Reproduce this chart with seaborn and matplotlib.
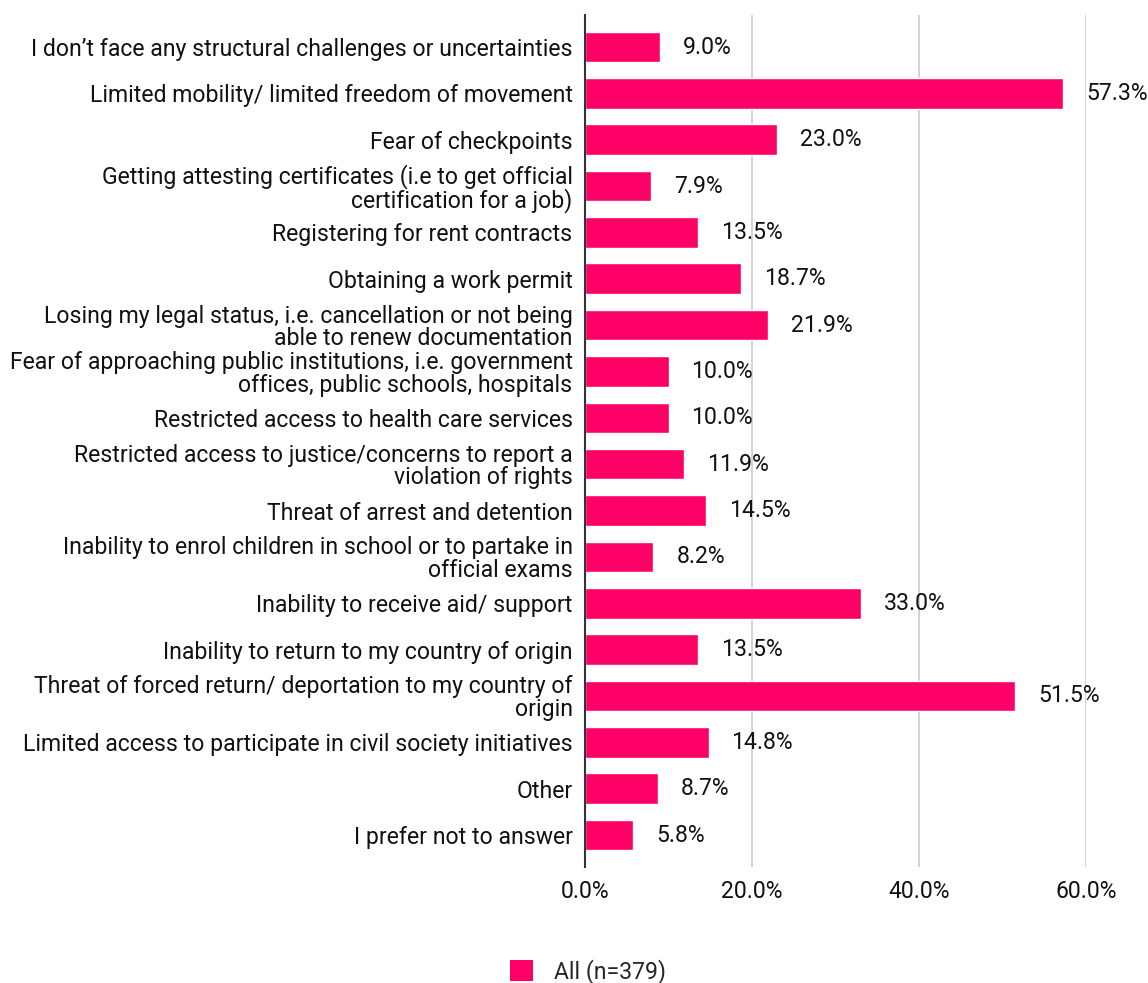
import matplotlib
matplotlib.use("Agg")
import matplotlib.pyplot as plt
import seaborn as sns
import pandas as pd
from matplotlib.patches import Patch

categories = [
    "I don\u2019t face any structural challenges or uncertainties",
    "Limited mobility/ limited freedom of movement",
    "Fear of checkpoints",
    "Getting attesting certificates (i.e to get official\ncertification for a job)",
    "Registering for rent contracts",
    "Obtaining a work permit",
    "Losing my legal status, i.e. cancellation or not being\nable to renew documentation",
    "Fear of approaching public institutions, i.e. government\noffices, public schools, hospitals",
    "Restricted access to health care services",
    "Restricted access to justice/concerns to report a\nviolation of rights",
    "Threat of arrest and detention",
    "Inability to enrol children in school or to partake in\nofficial exams",
    "Inability to receive aid/ support",
    "Inability to return to my country of origin",
    "Threat of forced return/ deportation to my country of\norigin",
    "Limited access to participate in civil society initiatives",
    "Other",
    "I prefer not to answer",
]
values = [9.0, 57.3, 23.0, 7.9, 13.5, 18.7, 21.9, 10.0, 10.0, 11.9,
          14.5, 8.2, 33.0, 13.5, 51.5, 14.8, 8.7, 5.8]
x_ticks = [0, 20, 40, 60]
series_name = "All (n=379)"

BAR = "#FF0066"
TEXT = "#111111"
FS = 16.6

sns.set_theme(style="white")
plt.rcParams["font.family"] = ["Roboto", "DejaVu Sans"]

df = pd.DataFrame({"category": categories, "value": values})

fig = plt.figure(figsize=(11.48, 9.83), dpi=100)
ax = fig.add_axes([0.5096, 0.118, 0.946 - 0.5096, 0.9847 - 0.118])

sns.barplot(data=df, y="category", x="value", orient="h", color=BAR,
            width=0.66, saturation=1, ax=ax, zorder=3)

pad = 0.69
ax.set_xlim(0, 60)
ax.set_ylim(len(categories) - 1 + pad, -pad)
ax.set_xticks(x_ticks)
ax.set_xticklabels([f"{t:.1f}%" for t in x_ticks], fontsize=FS, color=TEXT)
ax.tick_params(axis="x", length=0, pad=9)
ax.tick_params(axis="y", length=0, pad=9)
ax.set_yticklabels(categories, fontsize=FS, color=TEXT, linespacing=0.98)
for lbl in ax.get_yticklabels():
    lbl.set_horizontalalignment("right")
    lbl.set_multialignment("right")
ax.set_xlabel("")
ax.set_ylabel("")

ax.grid(axis="x", color="#cccccc", lw=1.2, zorder=1)
ax.grid(axis="y", visible=False)
ax.set_axisbelow(True)
for s in ["top", "right", "bottom"]:
    ax.spines[s].set_visible(False)
ax.spines["left"].set_color("#333333")
ax.spines["left"].set_linewidth(1.5)
ax.spines["left"].set_zorder(4)

for patch, v in zip(ax.patches, values):
    y = patch.get_y() + patch.get_height() / 2
    ax.annotate(f"{v:.1f}%", xy=(v, y), xytext=(16.5, 0), textcoords="offset points",
                ha="left", va="center", fontsize=FS, color=TEXT,
                annotation_clip=False)

fig.legend(handles=[Patch(facecolor=BAR, edgecolor="none", label=series_name)],
           loc="center", bbox_to_anchor=(0.512, 0.012), frameon=False,
           fontsize=FS, handlelength=1.0, handleheight=1.0, handletextpad=0.9)

fig.savefig("out.png", dpi=100, facecolor="white")
